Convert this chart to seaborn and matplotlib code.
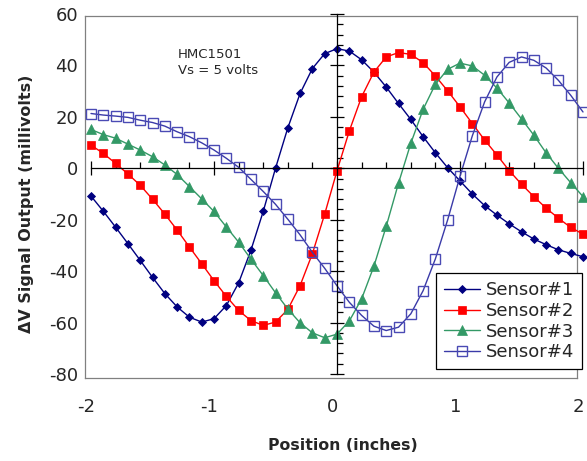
import numpy as np
import pandas as pd
import matplotlib
matplotlib.use("Agg")
import matplotlib.pyplot as plt
import matplotlib.transforms as mtransforms
import seaborn as sns
from matplotlib.ticker import MultipleLocator

# ---- data ----
positions = np.linspace(-2.0, 2.0, 41)

sensor1 = [-10.8, -16.7, -22.9, -29.3, -35.8, -42.4, -48.7, -53.9, -57.9, -59.8,
           -58.5, -53.4, -44.6, -31.9, -16.8, 0.0, 15.7, 29.1, 38.8, 44.6,
           46.5, 45.6, 42.2, 37.4, 31.6, 25.2, 19.0, 12.3, 6.0, 0.2,
           -4.9, -10.0, -14.5, -18.2, -21.6, -24.7, -27.5, -29.7, -31.7, -33.1, -34.4]
sensor2 = [9.0, 5.8, 1.9, -2.2, -6.6, -12.0, -17.8, -24.0, -30.6, -37.1,
           -43.7, -49.8, -55.3, -59.2, -61.1, -59.8, -54.9, -45.6, -33.2, -17.8,
           -1.0, 14.5, 27.8, 37.4, 43.3, 45.0, 44.3, 41.1, 35.9, 30.1,
           23.9, 17.4, 11.0, 5.2, -0.9, -6.2, -11.0, -15.5, -19.4, -23.0, -25.6]
sensor3 = [15.1, 13.1, 11.7, 9.4, 7.1, 4.5, 1.3, -2.4, -7.1, -11.9,
           -16.8, -22.8, -28.7, -35.3, -41.7, -48.4, -54.7, -60.1, -64.0, -65.9,
           -64.5, -59.4, -50.8, -38.1, -22.6, -5.8, 9.7, 22.9, 32.7, 38.5,
           40.9, 39.8, 36.2, 31.2, 25.4, 19.2, 12.9, 6.0, 0.0, -5.6, -11.0]
sensor4 = [21.3, 20.7, 20.3, 19.8, 18.7, 17.8, 16.4, 14.2, 12.3, 9.9,
           7.1, 3.9, 0.4, -4.3, -9.0, -14.0, -19.8, -25.9, -32.7, -38.9,
           -45.7, -52.1, -57.2, -61.4, -63.1, -61.8, -56.6, -47.6, -35.2, -20.0,
           -3.1, 12.6, 25.8, 35.5, 41.2, 43.3, 42.0, 39.0, 34.2, 28.4, 21.9]

series_names = ["Sensor#1", "Sensor#2", "Sensor#3", "Sensor#4"]
x_ticks = [-2, -1, 0, 1, 2]
y_ticks = [-80, -60, -40, -20, 0, 20, 40, 60]

# ---- style ----
sns.set_style("white")
plt.rcParams["font.family"] = ["DejaVu Sans"]

W, H = 587, 461
fig = plt.figure(figsize=(W / 100, H / 100), dpi=100)

# plot-area frame (gray box)
frame = fig.add_axes([85 / W, 1 - 378 / H, 492 / W, 362 / H], zorder=0)
frame.set_xticks([])
frame.set_yticks([])
for s in frame.spines.values():
    s.set_color("#808080")
    s.set_linewidth(0.9)
frame.set_facecolor("white")

# data axes
rect = [91 / W, 1 - 374 / H, 492 / W, 360 / H]
ax = fig.add_axes(rect, zorder=2)
ax.set_facecolor("none")

styles = [
    dict(color="#000080", marker="D", markersize=4.2, markeredgewidth=0.6,
         markerfacecolor="#000080", markeredgecolor="#000080"),
    dict(color="#FF0000", marker="s", markersize=6.3, markeredgewidth=0.5,
         markerfacecolor="#FF0000", markeredgecolor="#FF0000"),
    dict(color="#339966", marker="^", markersize=6.8, markeredgewidth=0.5,
         markerfacecolor="#339966", markeredgecolor="#339966"),
    dict(color="#3a3aa8", marker="s", markersize=6.6, markeredgewidth=1.0,
         markerfacecolor="none", markeredgecolor="#4a4ab4"),
]
all_series = [sensor1, sensor2, sensor3, sensor4]
for name, vals, st in zip(series_names, all_series, styles):
    df = pd.DataFrame({"pos": positions, "val": vals})
    sns.lineplot(data=df, x="pos", y="val", ax=ax, label=name,
                 linewidth=1.0, clip_on=False, **st)

ax.set_xlim(-2, 2)
ax.set_ylim(-80, 60)

# axis lines crossing at zero
for side in ["top", "right"]:
    ax.spines[side].set_visible(False)
ax.spines["left"].set_position(("data", 0))
ax.spines["bottom"].set_position(("data", 0))
for side in ["left", "bottom"]:
    ax.spines[side].set_color("black")
    ax.spines[side].set_linewidth(0.9)
ax.set_xticks(x_ticks)
ax.set_yticks(y_ticks)
ax.xaxis.set_minor_locator(MultipleLocator(0.2))
ax.yaxis.set_minor_locator(MultipleLocator(4))
ax.tick_params(which="both", bottom=True, left=True, top=False, right=False)
ax.tick_params(which="major", direction="inout", length=10, width=0.9,
               color="black", labelbottom=False, labelleft=False)
ax.tick_params(which="minor", direction="in", length=4.5, width=0.9, color="black")
ax.set_xlabel("")
ax.set_ylabel("")

# label axes (tick labels at the edges)
lab = fig.add_axes(rect, zorder=1)
lab.set_facecolor("none")
lab.set_xlim(-2, 2)
lab.set_ylim(-80, 60)
for s in lab.spines.values():
    s.set_visible(False)
lab.set_xticks(x_ticks)
lab.set_yticks(y_ticks)
lab.set_xticklabels([str(v) for v in x_ticks])
lab.set_yticklabels([str(v) for v in y_ticks])
lab.tick_params(axis="x", length=0, pad=17, labelsize=13)
lab.tick_params(axis="y", length=0, pad=9.4, labelsize=13)
shift = mtransforms.ScaledTranslation(-4.5 / 100, 0, fig.dpi_scale_trans)
for t in lab.get_xticklabels():
    t.set_transform(t.get_transform() + shift)
lab.set_xlabel("Position (inches)", fontsize=11.3, fontweight="bold")
lab.set_ylabel("\u0394V Signal Output (millivolts)", fontsize=11.5, fontweight="bold")
lab.xaxis.set_label_coords((343 - 91) / 492, (374 - 438) / 360)
lab.yaxis.set_label_coords((34 - 91) / 492, (374 - 203.5) / 360)

# annotations
fig.text(178 / W, 1 - 58.3 / H, "HMC1501", fontsize=9.5, va="baseline", ha="left")
fig.text(178 / W, 1 - 74.3 / H, "Vs = 5 volts", fontsize=9.5, va="baseline", ha="left")

# legend
leg = ax.legend(loc="upper right", bbox_to_anchor=(582 / W, 1 - 273 / H),
                bbox_transform=fig.transFigure, borderaxespad=0,
                fontsize=13, frameon=True, fancybox=False, framealpha=1,
                edgecolor="black", borderpad=0.45, labelspacing=0.15,
                handlelength=2.0, handletextpad=0.3)
leg.get_frame().set_linewidth(0.9)

fig.savefig("out.png", dpi=100)
